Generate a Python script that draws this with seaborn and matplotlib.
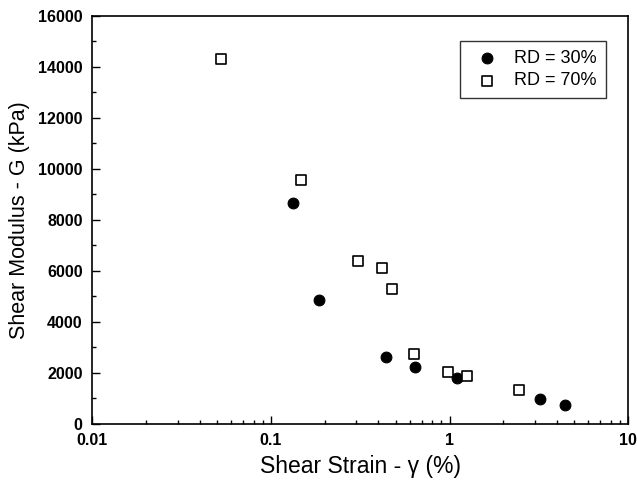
import matplotlib.pyplot as plt
import seaborn as sns
import pandas as pd

sns.set_style('ticks')
plt.rcParams['font.family'] = ['Liberation Sans', 'DejaVu Sans']
plt.rcParams['text.color'] = 'black'
plt.rcParams['axes.labelcolor'] = 'black'
plt.rcParams['xtick.color'] = 'black'
plt.rcParams['ytick.color'] = 'black'

# RD = 30% (filled circles)
strain_30 = [0.133, 0.186, 0.443, 0.644, 1.10, 3.23, 4.43]
modulus_30 = [8660, 4860, 2630, 2220, 1780, 980, 715]

# RD = 70% (open squares)
strain_70 = [0.0522, 0.148, 0.307, 0.419, 0.474, 0.636, 0.977, 1.25, 2.44]
modulus_70 = [14290, 9570, 6390, 6100, 5280, 2750, 2030, 1870, 1330]

df30 = pd.DataFrame({'strain': strain_30, 'G': modulus_30})
df70 = pd.DataFrame({'strain': strain_70, 'G': modulus_70})

fig, ax = plt.subplots(figsize=(6.37, 4.87), dpi=100)
fig.subplots_adjust(left=0.145, right=0.986, top=0.968, bottom=0.13)

sns.scatterplot(data=df30, x='strain', y='G', ax=ax, marker='o', s=60,
                color='black', edgecolor='black', linewidth=0.8, label='RD = 30%')
sns.scatterplot(data=df70, x='strain', y='G', ax=ax, marker='s', s=55,
                facecolor='white', edgecolor='black', linewidth=1.2, label='RD = 70%')

ax.set_xscale('log')
ax.set_xlim(0.01, 10)
ax.set_ylim(0, 16000)
ax.set_yticks(range(0, 16001, 2000))
ax.set_yticks(range(0, 16001, 1000), minor=True)
ax.set_xticks([0.01, 0.1, 1, 10])
ax.set_xticklabels(['0.01', '0.1', '1', '10'])

ax.tick_params(axis='both', which='both', direction='in', top=False, right=False,
               labelsize=11.5, width=1, colors='black')
ax.tick_params(axis='both', which='major', length=6)
ax.tick_params(axis='both', which='minor', length=3)
ax.tick_params(axis='x', which='major', pad=7)
ax.tick_params(axis='y', which='major', pad=7)
for lab in ax.get_xticklabels() + ax.get_yticklabels():
    lab.set_fontweight('bold')
for sp in ax.spines.values():
    sp.set_linewidth(1.2)
    sp.set_color('black')

ax.set_xlabel('Shear Strain - γ (%)', fontsize=16.5, labelpad=5)
ax.set_ylabel('Shear Modulus - G (kPa)', fontsize=15.5, labelpad=6)

leg = ax.legend(loc='upper right', bbox_to_anchor=(0.975, 0.96), fontsize=13,
                frameon=True, fancybox=False, edgecolor='black',
                handletextpad=0.5, borderpad=0.5, labelspacing=0.3)
leg.get_frame().set_linewidth(1.0)
for t in leg.get_texts():
    t.set_color('black')

fig.savefig('out.png', dpi=100)
